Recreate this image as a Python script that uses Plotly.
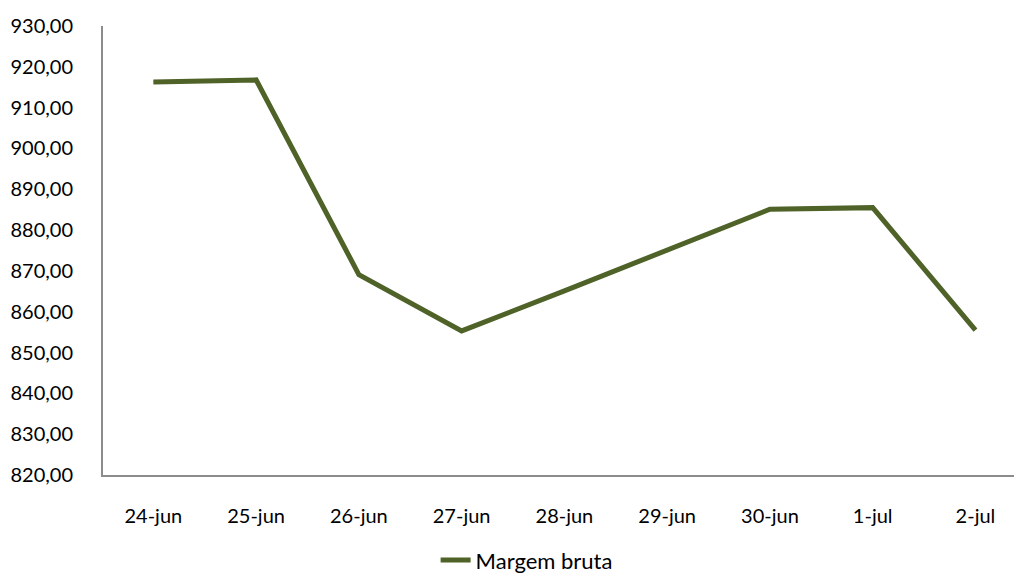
import plotly.graph_objects as go

categories = ["24-jun", "25-jun", "26-jun", "27-jun", "28-jun", "29-jun", "30-jun", "1-jul", "2-jul"]
margem_bruta = [916.3, 916.8, 869.1, 855.3, 865.1, 875.1, 885.1, 885.5, 855.5]
y_ticks = [820, 830, 840, 850, 860, 870, 880, 890, 900, 910, 920, 930]
y_tick_labels = [f"{v:.2f}".replace(".", ",") for v in y_ticks]

fig = go.Figure()
fig.add_trace(go.Scatter(
    x=list(range(len(categories))), y=margem_bruta, mode="lines", name="Margem bruta",
    line=dict(color="#4F6228", width=5),
))

font = "Lato, 'Open Sans', sans-serif"
fig.update_layout(
    width=1014, height=578,
    margin=dict(l=103, r=0, t=26, b=103, autoexpand=False),
    paper_bgcolor="white", plot_bgcolor="white",
    font=dict(family=font, size=20, color="black"),
    showlegend=True,
    legend=dict(orientation="h", x=0.465, xanchor="center", y=-0.19, yanchor="middle",
                font=dict(family=font, size=22, color="black")),
    xaxis=dict(
        tickmode="array", tickvals=list(range(len(categories))), ticktext=categories,
        range=[-0.49, 8.375], showline=True, linecolor="#8C8C8C", linewidth=2,
        showgrid=False, zeroline=False, ticks="", ticklabelstandoff=22,
    ),
    yaxis=dict(
        tickmode="array", tickvals=y_ticks, ticktext=y_tick_labels,
        range=[820, 930], showline=True, linecolor="#8C8C8C", linewidth=2,
        showgrid=False, zeroline=False, ticks="", ticklabelstandoff=24,
    ),
)

fig.write_html("out.html")
